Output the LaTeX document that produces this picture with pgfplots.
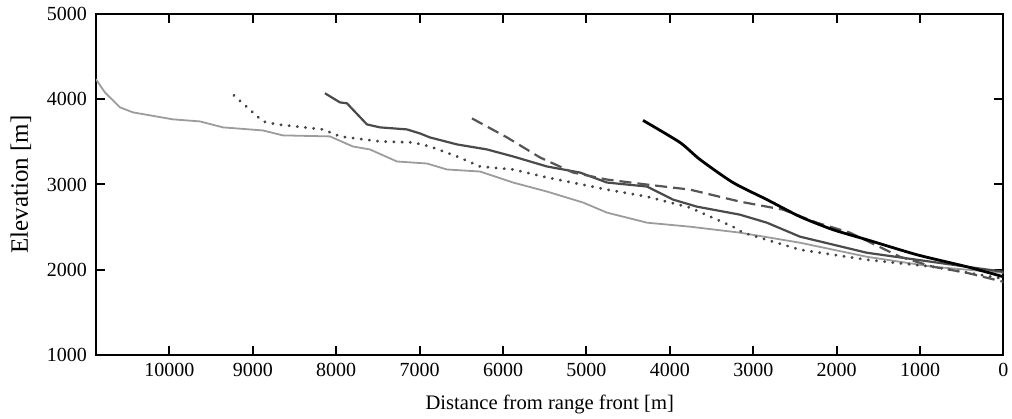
\documentclass[border=0pt]{standalone}
\usepackage{fontspec}
\setmainfont{Liberation Serif}
\usepackage{pgfplots}
\pgfplotsset{compat=1.18}
\definecolor{lightline}{HTML}{9C9C9C}
\definecolor{darkline}{HTML}{4A4A4A}
\definecolor{dashline}{HTML}{555555}
\definecolor{dotline}{HTML}{444444}

\begin{document}
\begin{tikzpicture}
\begin{axis}[
  name=ax,
  scale only axis,
  width=453.75pt,
  height=170.5pt,
  x dir=reverse,
  xmin=0, xmax=10880,
  ymin=1000, ymax=5000,
  xtick={0,1000,...,10000},
  ytick={1000,2000,...,5000},
  scaled ticks=false,
  tick align=inside,
  major tick length=4.5pt,
  tick style={line width=1pt,black},
  axis line style={line width=1pt},
  font=\fontsize{10}{12}\selectfont,
  /pgf/number format/1000 sep={},
  /pgf/number format/assume math mode=true,
  xlabel={Distance from range front [m]},
  ylabel={Elevation [m]},
  xlabel style={font=\fontsize{10.3}{12}\selectfont, yshift=-2.5pt},
  ylabel style={font=\fontsize{12.5}{14}\selectfont, yshift=1pt},
  xticklabel style={yshift=-0.5pt},
  yticklabel style={xshift=-1pt},
]
% light grey profile
\addplot[color=lightline, line width=0.9pt] coordinates {
  (10880,4235) (10774,4081) (10593,3905) (10437,3846) (9958,3764)
  (9634,3740) (9358,3670) (8879,3634) (8639,3576) (8075,3564)
  (7800,3446) (7596,3411) (7380,3317) (7272,3270) (6912,3246)
  (6672,3176) (6276,3152) (5880,3023) (5472,2917) (5040,2788)
  (4754,2670) (4274,2552) (3759,2505) (3160,2435) (2440,2317)
  (1637,2152) (845,2035) (0,1964)
};
% dotted profile
\addplot[color=dotline, line width=1.5pt, line cap=round, dash pattern=on 0.1pt off 4pt] coordinates {
  (9227,4046) (8879,3740) (8711,3705) (8159,3646) (7955,3564)
  (7476,3505) (7080,3493) (6876,3446) (6552,3329) (6276,3211)
  (5880,3176) (5472,3082) (4873,2964) (4754,2940) (4274,2858)
  (3759,2729) (3244,2505) (3124,2435) (2440,2235) (1637,2117)
  (845,2035) (0,1894)
};
% dark grey profile
\addplot[color=darkline, line width=1.1pt] coordinates {
  (8135,4070) (7955,3963) (7871,3952) (7632,3705) (7476,3670)
  (7152,3646) (6996,3599) (6876,3552) (6552,3470) (6192,3411)
  (5880,3329) (5472,3211) (5077,3140) (4754,3023) (4274,2976)
  (3963,2823) (3675,2740) (3160,2646) (2837,2552) (2440,2388)
  (1637,2199) (1038,2117) (438,2035) (0,1976)
};
% dashed profile
\addplot[color=dashline, line width=1.1pt, dash pattern=on 6pt off 3pt] coordinates {
  (6372,3775) (5952,3552) (5557,3317) (5161,3140) (4754,3058)
  (4274,2999) (3759,2940) (3160,2799) (2645,2705) (2237,2552)
  (1841,2435) (1241,2152) (845,2035) (438,1964) (0,1858)
};
% black profile
\addplot[color=black, line width=1.4pt, smooth, tension=0.4] coordinates {
  (4322,3752) (3879,3493) (3639,3293) (3244,3023) (2837,2823)
  (2440,2623) (2045,2470) (1637,2352) (1038,2176) (438,2035)
  (0,1917)
};
\end{axis}
\pgfresetboundingbox
\path (ax.south west) ++(-48pt,-32pt) coordinate (bl);
\path (ax.north east) ++(4.25pt,7pt) coordinate (tr);
\path[use as bounding box] (bl) rectangle (tr);
\end{tikzpicture}
\end{document}
